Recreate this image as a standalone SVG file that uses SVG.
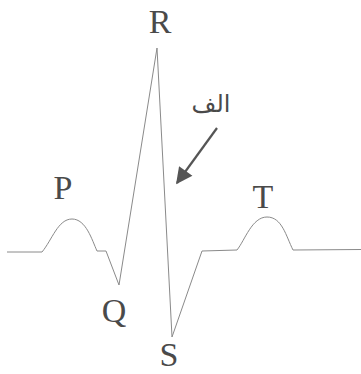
<svg xmlns="http://www.w3.org/2000/svg" width="361" height="374" viewBox="0 0 361 374">
<style>
.lbl{font-family:"Liberation Serif","Times New Roman",serif;font-size:34px;fill:#4a4a4a;text-anchor:middle}
.ar{font-family:"DejaVu Sans","Noto Sans",sans-serif;font-size:24px;fill:#4a4a4a;text-anchor:middle}
.trace{fill:none;stroke:#8a8a8a;stroke-width:1;stroke-linejoin:round}
.arrow{stroke:#555;stroke-width:2.2;fill:none}
</style>
<defs>
<marker id="ah" viewBox="0 0 10 10" refX="9" refY="5" markerWidth="8" markerHeight="7.5" markerUnits="strokeWidth" orient="auto">
<path d="M0,0 L10,5 L0,10 z" fill="#555"/>
</marker>
</defs>
<rect width="361" height="374" fill="#fff"/>
<g id="connectors">
<path class="trace" d="M7,252 L42,252 C52,240 58,219 72,219 C86,219 92,240 97,251 L106,251 L119,285 L157,48 L172,337 L202,251 L237,250 C245,240 252,217 267,217 C282,217 286,236 293,250 L361,249.5"/>
<path class="arrow" d="M217,128 L177,183" marker-end="url(#ah)"/>
</g>
<g id="R"><text class="lbl" x="160" y="33">R</text></g>
<g id="P"><text class="lbl" x="63" y="199">P</text></g>
<g id="T"><text class="lbl" x="263" y="208">T</text></g>
<g id="Q"><text class="lbl" x="114" y="322">Q</text></g>
<g id="S"><text class="lbl" x="169" y="366">S</text></g>
<g id="alef"><text class="ar" x="211" y="112">الف</text></g>
</svg>
